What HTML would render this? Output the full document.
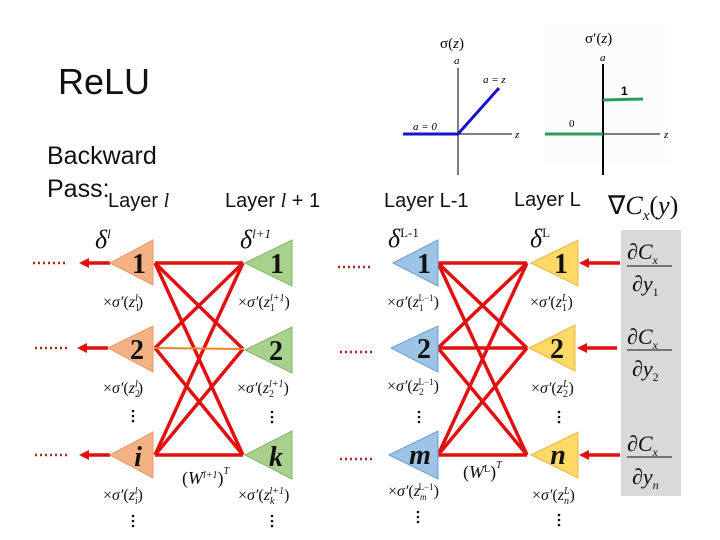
<!DOCTYPE html>
<html><head><meta charset="utf-8"><style>
html,body{margin:0;padding:0;background:#fff;}
svg{display:block;}
.c{font-family:"Liberation Sans",sans-serif;}
.m{font-family:"Liberation Serif",serif;}
</style></head><body>
<svg width="720" height="540" viewBox="0 0 720 540" xmlns="http://www.w3.org/2000/svg">
<defs>
<marker id="ah" markerWidth="10" markerHeight="10" refX="7" refY="5" orient="auto" markerUnits="userSpaceOnUse">
<path d="M0,0 L10,5 L0,10 Z" fill="#e01010"/></marker>
</defs>
<rect width="720" height="540" fill="#fff"/>
<text x="58" y="94" class="c" font-size="36" fill="#111">ReLU</text>
<text x="47" y="164" class="c" font-size="25" fill="#111">Backward</text>
<text x="47" y="197" class="c" font-size="25" fill="#111">Pass:</text>
<text x="108" y="207" class="c" font-size="20" fill="#111">Layer <tspan class="m" font-style="italic">l</tspan></text>
<text x="225" y="207" class="c" font-size="20" fill="#111">Layer <tspan class="m" font-style="italic">l</tspan> + 1</text>
<text x="384" y="207" class="c" font-size="20" fill="#111">Layer L-1</text>
<text x="514" y="206" class="c" font-size="20" fill="#111">Layer L</text>
<text x="608" y="214" class="m" font-size="26" fill="#111">∇<tspan font-style="italic">C</tspan><tspan font-size="15" dy="6" font-style="italic">x</tspan><tspan dy="-6">(</tspan><tspan font-style="italic">y</tspan>)</text>

<!-- plots -->
<text x="440" y="48" class="m" font-size="15">σ(<tspan font-style="italic">z</tspan>)</text>
<text x="454" y="64" class="m" font-size="11" font-style="italic">a</text>
<line x1="458" y1="68" x2="458" y2="175" stroke="#000" stroke-width="1"/>
<line x1="403" y1="134" x2="512" y2="134" stroke="#000" stroke-width="1"/>
<text x="515" y="138" class="m" font-size="11" font-style="italic">z</text>
<polyline points="403,134 458,134 499,88" fill="none" stroke="#1515c8" stroke-width="3"/>
<text x="483" y="83" class="m" font-size="11" font-style="italic">a = z</text>
<text x="413" y="130" class="m" font-size="11" font-style="italic">a = 0</text>
<rect x="544" y="24" width="126" height="140" fill="#fcfcfc"/>
<text x="585" y="43" class="m" font-size="15">σ′(<tspan font-style="italic">z</tspan>)</text>
<text x="600" y="61" class="m" font-size="11" font-style="italic">a</text>
<line x1="603" y1="64" x2="603" y2="175" stroke="#000" stroke-width="2"/>
<line x1="545" y1="134" x2="660" y2="134" stroke="#000" stroke-width="1"/>
<text x="664" y="138" class="m" font-size="11" font-style="italic">z</text>
<line x1="545" y1="134" x2="603" y2="134" stroke="#2a9d5a" stroke-width="3"/>
<line x1="603" y1="100" x2="643" y2="99" stroke="#2a9d5a" stroke-width="3"/>
<text x="621" y="95" class="c" font-size="12" font-weight="bold">1</text>
<text x="569" y="127" class="m" font-size="11">0</text>

<!-- gray box -->
<rect x="621" y="230" width="60" height="266" fill="#d9d9d9"/>

<!-- connections -->
<g stroke="#e01010" stroke-width="3.5" fill="none">
<line x1="243" y1="263" x2="155" y2="263"/><line x1="243" y1="263" x2="155" y2="348"/><line x1="243" y1="263" x2="155" y2="455"/>
<line x1="243" y1="349" x2="155" y2="263"/><line x1="243" y1="349" x2="155" y2="455"/>
<line x1="243" y1="455" x2="155" y2="263"/><line x1="243" y1="455" x2="155" y2="348"/><line x1="243" y1="455" x2="155" y2="455"/>
<line x1="527" y1="263" x2="438" y2="263"/><line x1="527" y1="263" x2="438" y2="348"/><line x1="527" y1="263" x2="438" y2="455"/>
<line x1="527" y1="348" x2="438" y2="263"/><line x1="527" y1="348" x2="438" y2="348"/><line x1="527" y1="348" x2="438" y2="455"/>
<line x1="527" y1="455" x2="438" y2="263"/><line x1="527" y1="455" x2="438" y2="348"/><line x1="527" y1="455" x2="438" y2="455"/>
</g>
<line x1="243" y1="349" x2="155" y2="348" stroke="#e8862a" stroke-width="2"/>
<g stroke="#e01010" stroke-width="3.5" marker-end="url(#ah)">
<line x1="110" y1="263" x2="82" y2="263"/><line x1="108" y1="348" x2="80" y2="348"/><line x1="110" y1="455" x2="82" y2="455"/>
<line x1="620" y1="263" x2="582" y2="263"/><line x1="617" y1="348" x2="580" y2="348"/><line x1="620" y1="455" x2="582" y2="455"/>
</g>
<g stroke="#b02020" stroke-width="2.5" stroke-dasharray="2,3">
<line x1="33" y1="263" x2="68" y2="263"/><line x1="35" y1="348" x2="68" y2="348"/><line x1="35" y1="455" x2="68" y2="455"/>
<line x1="338" y1="267" x2="372" y2="267"/><line x1="340" y1="352" x2="372" y2="352"/><line x1="340" y1="459" x2="372" y2="459"/>
</g>

<!-- triangles -->
<g stroke-width="1">
<polygon points="110,263 153,240 153,285" fill="#f4b183" stroke="#e89a6a"/>
<polygon points="108,348 153,326 153,372" fill="#f4b183" stroke="#e89a6a"/>
<polygon points="110,455 153,432 153,478" fill="#f4b183" stroke="#e89a6a"/>
<polygon points="245,263 292,240 292,286" fill="#a9d18e" stroke="#82b366"/>
<polygon points="245,350 292,327 292,373" fill="#a9d18e" stroke="#82b366"/>
<polygon points="245,455 292,431 292,479" fill="#a9d18e" stroke="#82b366"/>
<polygon points="393,263 438,240 438,286" fill="#9dc3e6" stroke="#6a9fcf"/>
<polygon points="391,348 438,326 438,372" fill="#9dc3e6" stroke="#6a9fcf"/>
<polygon points="389,455 438,431 438,479" fill="#9dc3e6" stroke="#6a9fcf"/>
<polygon points="531,263 578,240 578,286" fill="#ffd966" stroke="#e6b84a"/>
<polygon points="529,348 575,325 575,371" fill="#ffd966" stroke="#e6b84a"/>
<polygon points="531,455 578,432 578,478" fill="#ffd966" stroke="#e6b84a"/>
</g>
<g class="m" font-weight="bold" font-size="28" fill="#111" text-anchor="middle">
<text x="139" y="273">1</text><text x="137" y="359">2</text><text x="138" y="466" font-style="italic">i</text>
<text x="277" y="273">1</text><text x="276" y="360">2</text><text x="276" y="466" font-style="italic">k</text>
<text x="424" y="273">1</text><text x="424" y="358">2</text><text x="420" y="464" font-style="italic">m</text>
<text x="561" y="273">1</text><text x="557" y="358">2</text><text x="558" y="464" font-style="italic">n</text>
</g>
<!-- deltas -->
<g class="m" font-style="italic" font-size="26" fill="#111">
<text x="95" y="248">δ<tspan font-size="13" dy="-10">l</tspan></text>
<text x="240" y="248">δ<tspan font-size="13" dy="-10">l+1</tspan></text>
<text x="388" y="247">δ<tspan font-size="13" dy="-10" font-style="normal">L-1</tspan></text>
<text x="530" y="247">δ<tspan font-size="13" dy="-10" font-style="normal">L</tspan></text>
</g>
<!-- sigma terms -->
<g class="m" font-size="16" fill="#111">
<text x="103" y="307">×<tspan font-style="italic">σ′</tspan>(<tspan font-style="italic">z</tspan><tspan font-size="10" dy="4">1</tspan><tspan font-size="10" dx="-5" dy="-10" font-style="italic">l</tspan><tspan dy="6">)</tspan></text>
<text x="103" y="393">×<tspan font-style="italic">σ′</tspan>(<tspan font-style="italic">z</tspan><tspan font-size="10" dy="4">2</tspan><tspan font-size="10" dx="-5" dy="-10" font-style="italic">l</tspan><tspan dy="6">)</tspan></text>
<text x="103" y="500">×<tspan font-style="italic">σ′</tspan>(<tspan font-style="italic">z</tspan><tspan font-size="10" dy="4" font-style="italic">i</tspan><tspan font-size="10" dx="-3" dy="-10" font-style="italic">l</tspan><tspan dy="6">)</tspan></text>
<text x="238" y="307">×<tspan font-style="italic">σ′</tspan>(<tspan font-style="italic">z</tspan><tspan font-size="10" dy="4">1</tspan><tspan font-size="10" dx="-5" dy="-10" font-style="italic">l+1</tspan><tspan dy="6">)</tspan></text>
<text x="237" y="393">×<tspan font-style="italic">σ′</tspan>(<tspan font-style="italic">z</tspan><tspan font-size="10" dy="4">2</tspan><tspan font-size="10" dx="-5" dy="-10" font-style="italic">l+1</tspan><tspan dy="6">)</tspan></text>
<text x="238" y="500">×<tspan font-style="italic">σ′</tspan>(<tspan font-style="italic">z</tspan><tspan font-size="10" dy="4" font-style="italic">k</tspan><tspan font-size="10" dx="-5" dy="-10" font-style="italic">l+1</tspan><tspan dy="6">)</tspan></text>
<text x="387" y="307">×<tspan font-style="italic">σ′</tspan>(<tspan font-style="italic">z</tspan><tspan font-size="9" dy="4">1</tspan><tspan font-size="9" dx="-5" dy="-10">L−1</tspan><tspan dy="6">)</tspan></text>
<text x="387" y="391">×<tspan font-style="italic">σ′</tspan>(<tspan font-style="italic">z</tspan><tspan font-size="9" dy="4">2</tspan><tspan font-size="9" dx="-5" dy="-10">L−1</tspan><tspan dy="6">)</tspan></text>
<text x="388" y="496">×<tspan font-style="italic">σ′</tspan>(<tspan font-style="italic">z</tspan><tspan font-size="9" dy="4" font-style="italic">m</tspan><tspan font-size="9" dx="-8" dy="-10">L−1</tspan><tspan dy="6">)</tspan></text>
<text x="530" y="307">×<tspan font-style="italic">σ′</tspan>(<tspan font-style="italic">z</tspan><tspan font-size="10" dy="4">1</tspan><tspan font-size="10" dx="-5" dy="-10" font-style="italic">L</tspan><tspan dy="6">)</tspan></text>
<text x="531" y="393">×<tspan font-style="italic">σ′</tspan>(<tspan font-style="italic">z</tspan><tspan font-size="10" dy="4">2</tspan><tspan font-size="10" dx="-5" dy="-10" font-style="italic">L</tspan><tspan dy="6">)</tspan></text>
<text x="532" y="500">×<tspan font-style="italic">σ′</tspan>(<tspan font-style="italic">z</tspan><tspan font-size="10" dy="4" font-style="italic">n</tspan><tspan font-size="10" dx="-5" dy="-10" font-style="italic">L</tspan><tspan dy="6">)</tspan></text>
<text x="182" y="484" font-size="18">(<tspan font-style="italic">W</tspan><tspan font-size="10" dy="-6" font-style="italic">l+1</tspan><tspan dy="6">)</tspan><tspan font-size="10" dy="-10" font-style="italic">T</tspan></text>
<text x="463" y="478" font-size="18">(<tspan font-style="italic">W</tspan><tspan font-size="10" dy="-6">L</tspan><tspan dy="6">)</tspan><tspan font-size="10" dy="-10" font-style="italic">T</tspan></text>
</g>
<!-- vertical dots -->
<g fill="#111">
<circle cx="133" cy="411" r="1.3"/><circle cx="133" cy="416" r="1.3"/><circle cx="133" cy="421" r="1.3"/>
<circle cx="133" cy="516" r="1.3"/><circle cx="133" cy="521" r="1.3"/><circle cx="133" cy="526" r="1.3"/>
<circle cx="272" cy="412" r="1.3"/><circle cx="272" cy="417" r="1.3"/><circle cx="272" cy="422" r="1.3"/>
<circle cx="272" cy="516" r="1.3"/><circle cx="272" cy="521" r="1.3"/><circle cx="272" cy="526" r="1.3"/>
<circle cx="419" cy="412" r="1.3"/><circle cx="419" cy="417" r="1.3"/><circle cx="419" cy="422" r="1.3"/>
<circle cx="418" cy="512" r="1.3"/><circle cx="418" cy="517" r="1.3"/><circle cx="418" cy="522" r="1.3"/>
<circle cx="559" cy="412" r="1.3"/><circle cx="559" cy="417" r="1.3"/><circle cx="559" cy="422" r="1.3"/>
<circle cx="559" cy="515" r="1.3"/><circle cx="559" cy="520" r="1.3"/><circle cx="559" cy="525" r="1.3"/>
</g>
<!-- fractions -->
<g class="m" font-size="22" fill="#111" font-style="italic">
<text x="627" y="259">∂C<tspan font-size="12" dy="5">x</tspan></text>
<line x1="627" y1="266" x2="672" y2="266" stroke="#111" stroke-width="1"/>
<text x="632" y="291">∂y<tspan font-size="12" dy="5" font-style="normal">1</tspan></text>
<text x="627" y="344">∂C<tspan font-size="12" dy="5">x</tspan></text>
<line x1="627" y1="350" x2="672" y2="350" stroke="#111" stroke-width="1"/>
<text x="632" y="376">∂y<tspan font-size="12" dy="5" font-style="normal">2</tspan></text>
<text x="627" y="451">∂C<tspan font-size="12" dy="5">x</tspan></text>
<line x1="627" y1="457" x2="672" y2="457" stroke="#111" stroke-width="1"/>
<text x="632" y="484">∂y<tspan font-size="12" dy="5">n</tspan></text>
</g>
</svg>
</body></html>
